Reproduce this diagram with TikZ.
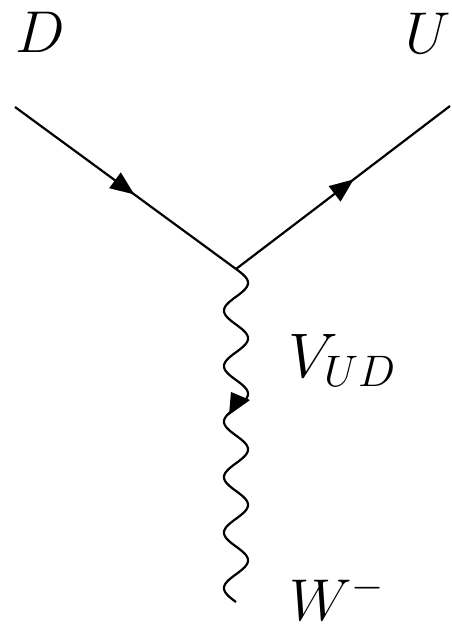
\documentclass[tikz,border=0pt]{standalone}
\usepackage{fix-cm}
\usetikzlibrary{arrows.meta,decorations.markings}
\begin{document}
\begin{tikzpicture}[x=1pt,y=-1pt,
  fermion/.style={line width=2.2pt, postaction={decorate},
    decoration={markings, mark=at position #1 with {\arrow{Triangle[length=24pt,width=19pt]}}}},
  boson/.style={line width=2.2pt},
  lbl/.style={font=\fontsize{59}{61}\selectfont, inner sep=0pt}]
\useasboundingbox (0,0) rectangle (451,631);
\coordinate (d) at (15,107);
\coordinate (u) at (450,106);
\coordinate (v) at (236,269);
\coordinate (w) at (236,602);
\draw[fermion=0.54] (d) -- (v);
\draw[fermion=0.55] (v) -- (u);
\draw[boson] plot[domain=0:333, samples=300, smooth] ({236+12*sin(\x/333*2160)}, {269+\x});
\fill (229,415) -- (231,392) -- (250,400) -- cycle;
\node[lbl, anchor=base west] (D) at (15,53) {$D$};
\node[lbl, anchor=base east] (U) at (451,54) {$U$};
\node[lbl, anchor=base west, font=\fontsize{63}{65}\selectfont] (V) at (288,377) {$V_{UD}$};
\node[lbl, anchor=base west] (W) at (289,620) {$W^{-}$};
\end{tikzpicture}
\end{document}
